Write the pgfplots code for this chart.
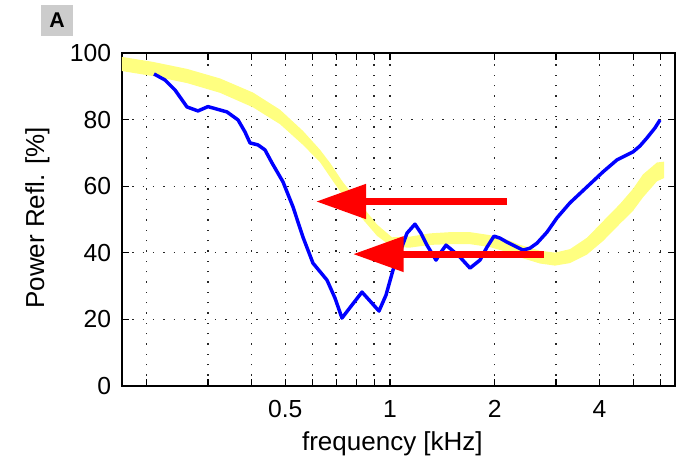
\documentclass[border=0pt]{standalone}
\usepackage{fontspec}
\setmainfont{Liberation Sans}
\usepackage{pgfplots}
\pgfplotsset{compat=1.18}
\usetikzlibrary{arrows.meta}

\definecolor{bandyellow}{RGB}{255,255,128}
\definecolor{traceblue}{RGB}{0,0,255}
\definecolor{arrowred}{RGB}{255,0,0}
\definecolor{panelgray}{RGB}{204,204,204}

\begin{document}
\begin{tikzpicture}
\useasboundingbox (0pt,0pt) rectangle (511.5pt,342pt);

% panel tag
\node[fill=panelgray, minimum width=24pt, minimum height=23.25pt, inner sep=0pt,
      font=\fontsize{16}{18}\selectfont\bfseries] at (42.75pt,326.6pt) {A};

\begin{axis}[
  at={(91.5pt,52.5pt)}, anchor=south west,
  scale only axis, width=414.75pt, height=249.75pt,
  xmode=log, xmin=0.1698, xmax=6.592, ymin=0, ymax=100,
  xtick={0.2,0.3,0.4,0.5,0.6,0.7,0.8,0.9,1,2,3,4,5,6},
  xticklabels={,,,0.5,,,,,1,2,,4,,},
  minor xtick={},
  ytick={0,20,40,60,80,100},
  tick align=inside, major tick length=5pt,
  axis line style={black, line width=1.1pt},
  every tick/.style={black, line width=0.8pt},
  grid=major,
  major grid style={black!85, line width=1pt, dash pattern=on 1pt off 6.75pt},
  /pgf/number format/assume math mode=true,
  ticklabel style={font=\fontsize{18.5}{20}\selectfont},
  yticklabel style={inner sep=0pt, xshift=-8pt},
  xticklabel style={inner sep=0pt, anchor=north, yshift=-10.5pt},
  xlabel={frequency [kHz]},
  ylabel={Power Refl. [\%]},
  label style={font=\fontsize{19.5}{21}\selectfont},
  xlabel style={at={(axis description cs:0.489,-0.195)}, anchor=base, inner sep=0pt},
  ylabel style={at={(axis description cs:-0.153,0.5045)}, anchor=center, rotate=0, inner sep=0pt},
]

% reference band: upper edge left to right, then lower edge back
\addplot[fill=bandyellow, draw=none] coordinates {
  (0.1650,99.03) (0.1698,98.83) (0.2084,97.33) (0.2610,95.23) (0.3248,92.36)
  (0.4040,88.12) (0.4830,82.98) (0.5623,76.60) (0.6292,70.97) (0.6724,67.00)
  (0.7327,61.20) (0.8200,54.77) (0.9176,48.50) (1.0133,44.66) (1.1416,44.85)
  (1.3029,45.83) (1.4872,46.20) (1.6979,46.20) (1.9383,45.30) (2.1405,44.18)
  (2.3636,42.38) (2.6977,40.62) (2.9795,40.05) (3.2899,41.10) (3.6826,44.52)
  (4.0936,49.47) (4.5808,54.67) (4.9922,59.20) (5.3334,63.55) (5.8508,67.12)
  (6.1292,67.36)
  (6.1292,62.44) (5.8508,61.48) (5.3334,56.65) (4.9922,52.60) (4.5808,48.73)
  (4.0936,43.53) (3.6826,39.48) (3.2899,36.90) (2.9795,36.15) (2.6977,36.78)
  (2.3636,38.62) (2.1405,40.42) (1.9383,41.70) (1.6979,42.60) (1.4872,42.60)
  (1.3029,42.37) (1.1416,41.55) (1.0133,41.74) (0.9176,45.10) (0.8200,51.03)
  (0.7327,57.20) (0.6724,62.80) (0.6292,67.23) (0.5623,72.40) (0.4830,78.62)
  (0.4040,83.68) (0.3248,88.04) (0.2610,90.97) (0.2084,93.07) (0.1698,94.57)
  (0.1650,94.77)
} -- cycle;

% measured power reflectance
\addplot[traceblue, line width=2.6pt, line join=round] coordinates {
  (0.2099,93.7) (0.2256,91.9) (0.2411,88.9) (0.2610,83.8) (0.2807,82.6)
  (0.2999,83.9) (0.3401,82.3) (0.3659,79.9) (0.3831,76.3) (0.3960,73.0)
  (0.4175,72.4) (0.4373,70.9) (0.4580,67.0) (0.4926,61.3) (0.5263,53.8)
  (0.5623,44.7) (0.6007,36.9) (0.6592,31.8) (0.6950,26.4) (0.7278,20.4)
  (0.7775,24.3) (0.8309,28.2) (0.8818,25.2) (0.9298,22.5) (0.9739,27.3)
  (1.0200,34.8) (1.0684,40.2) (1.1190,45.9) (1.1798,48.6) (1.2278,45.9)
  (1.2774,42.3) (1.3559,37.8) (1.4016,40.2) (1.4486,42.3) (1.5075,40.8)
  (1.5891,38.7) (1.6979,35.4) (1.8140,37.8) (1.9000,41.7) (1.9901,45.0)
  (2.0707,44.4) (2.1688,43.2) (2.2869,42.0) (2.4113,40.8) (2.5257,41.4)
  (2.6455,42.9) (2.8260,46.2) (3.0192,50.5) (3.2899,55.0) (3.6826,59.8)
  (4.0936,64.3) (4.4908,67.9) (4.7350,69.1) (4.9922,70.3) (5.2289,72.1)
  (5.4763,74.5) (5.7742,77.5) (5.9694,79.9)
};

% annotation arrows
\draw[arrowred, line width=5.25pt, -{Triangle[length=37.5pt,width=25pt]}]
  (axis cs:2.169,55.4) -- (axis cs:0.613,55.4);
\draw[arrowred, line width=5.25pt, -{Triangle[length=38pt,width=25.5pt]}]
  (axis cs:2.77,39.6) -- (axis cs:0.783,39.6);
\end{axis}
\end{tikzpicture}
\end{document}
